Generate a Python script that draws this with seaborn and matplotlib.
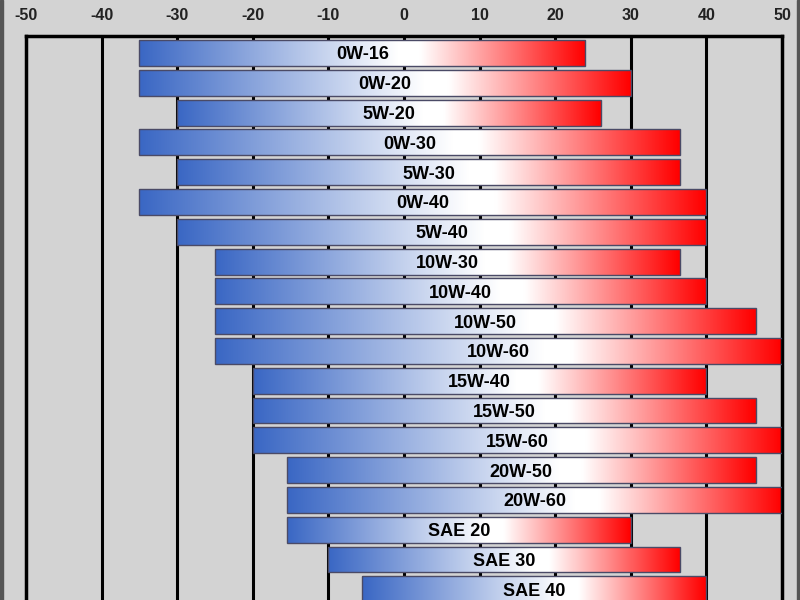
import numpy as np
import pandas as pd
import matplotlib
matplotlib.use("Agg")
import matplotlib.pyplot as plt
import seaborn as sns
from matplotlib.colors import LinearSegmentedColormap
from matplotlib.patches import Rectangle

# ---- data ----
grades = ["0W-16", "0W-20", "5W-20", "0W-30", "5W-30", "0W-40", "5W-40",
          "10W-30", "10W-40", "10W-50", "10W-60", "15W-40", "15W-50",
          "15W-60", "20W-50", "20W-60", "SAE 20", "SAE 30", "SAE 40"]
low_temp = [-35, -35, -30, -35, -30, -35, -30, -25, -25, -25, -25,
            -20, -20, -20, -15.5, -15.5, -15.5, -10, -5.5]
high_temp = [24, 30, 26, 36.5, 36.5, 40, 40, 36.5, 40, 46.5, 50,
             40, 46.5, 50, 46.5, 50, 30, 36.5, 40]
tick_values = [-50, -40, -30, -20, -10, 0, 10, 20, 30, 40, 50]

sns.set_theme(style="white")
plt.rcParams['font.family'] = ['Liberation Sans', 'DejaVu Sans']

df = pd.DataFrame({"grade": grades, "low": low_temp, "high": high_temp})
df["span"] = df["high"] - df["low"]

BG = "#d3d3d3"
fig = plt.figure(figsize=(8, 6), dpi=100, facecolor=BG)
ax = fig.add_axes([26 / 800, 0, 756 / 800, 564 / 600])
ax.set_facecolor(BG)

sns.barplot(data=df, y="grade", x="span", order=grades, orient="y",
            color="#ffffff", width=0.87, edgecolor="#4a4a66", linewidth=1.0,
            ax=ax, zorder=3)

cmap = LinearSegmentedColormap.from_list(
    "oil", [(0.0, "#3a67c4"), (0.58, "#ffffff"), (0.63, "#ffffff"),
            (1.0, "#ff0000")])
grad = np.linspace(0, 1, 256).reshape(1, -1)

for patch, lo, hi, g in zip(ax.patches, df["low"], df["high"], grades):
    patch.set_x(lo)
    y0 = patch.get_y()
    h = patch.get_height()
    im = ax.imshow(grad, cmap=cmap, aspect="auto",
                   extent=[lo, lo + patch.get_width(), y0 + h, y0],
                   zorder=2.5, interpolation="bilinear")
    im.set_clip_path(patch)
    patch.set_facecolor("none")
    ax.text((lo + hi) / 2, y0 + h / 2, g, ha="center", va="center_baseline",
            fontsize=13, fontweight="bold", color="black", zorder=4)

for v in tick_values[1:-1]:
    ax.axvline(v, color="black", lw=2.2, zorder=1)

ax.set_xlim(-50, 50)
ax.set_ylim(18.36, -0.57)
ax.set_yticks([])
ax.set_xlabel("")
ax.set_ylabel("")
ax.xaxis.tick_top()
ax.set_xticks(tick_values)
ax.set_xticklabels([str(v) for v in tick_values])
ax.tick_params(axis="x", length=0, pad=9.5, labelsize=11.5, labelcolor="#222222")
for lbl in ax.get_xticklabels():
    lbl.set_fontweight("bold")

for side in ["left", "top", "right"]:
    ax.spines[side].set_visible(True)
    ax.spines[side].set_color("black")
    ax.spines[side].set_linewidth(2.5)
ax.spines["bottom"].set_visible(False)

fig.add_artist(Rectangle((0, 0), 3 / 800, 1, transform=fig.transFigure,
                         color="#555555", zorder=0))
fig.add_artist(Rectangle((797 / 800, 0), 3 / 800, 1, transform=fig.transFigure,
                         color="#555555", zorder=0))

fig.savefig("out.png", dpi=100, facecolor=BG)
